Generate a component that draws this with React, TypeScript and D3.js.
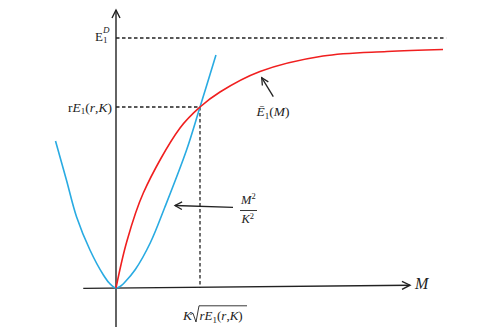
import React from "react";
import * as d3 from "d3";

// E1 bar(M) (M in units of K*sqrt(rE1), E in units of E1^D)
const redM = [0, 0.127, 0.325, 0.762, 1.0, 1.238, 1.714, 2.464, 3.226, 3.893];
const redE = [0, 0.184, 0.38, 0.64, 0.724, 0.784, 0.866, 0.928, 0.946, 0.954];
// M^2/K^2 curve
const blueM = [-0.72, -0.59, -0.47, -0.31, -0.15, -0.075, 0, 0.06, 0.11, 0.23, 0.41, 0.58, 0.84, 1.0, 1.19];
const blueE = [0.588, 0.432, 0.285, 0.152, 0.052, 0.018, 0, 0.009, 0.025, 0.074, 0.182, 0.322, 0.552, 0.724, 0.932];
// reference levels
const E1D = 1;
const rE1 = 0.724;
const Mstar = 1;

const W = 497;
const H = 334;
const FONT = "'Liberation Serif', 'DejaVu Serif', serif";

const App = () => {
    const x = d3.scaleLinear().domain([0, 1]).range([116, 200]);
    const y = d3.scaleLinear().domain([0, 1]).range([288, 38]);

    const line = d3.line<[number, number]>()
        .x(d => x(d[0]))
        .y(d => y(d[1]))
        .curve(d3.curveCatmullRom.alpha(0.5));

    const red = line(redM.map((m, i) => [m, redE[i]]));
    const blue = line(blueM.map((m, i) => [m, blueE[i]]));

    // axis extents
    const x0 = x(-0.39), x1 = x(3.5);
    const yTop = y(1.112), yBot = y(-0.156);
    const axisY0 = y(0) + 0.4, axisY1 = y(0) - 2.8;

    const arrowHead = (tx: number, ty: number, fx: number, fy: number, len = 8, spread = 4) => {
        const a = Math.atan2(ty - fy, tx - fx);
        const bx = tx - len * Math.cos(a), by = ty - len * Math.sin(a);
        const px = -Math.sin(a) * spread, py = Math.cos(a) * spread;
        return `M${bx + px},${by + py}L${tx},${ty}L${bx - px},${by - py}`;
    };

    const ink = "#222";
    const dash = "3.5,2.5";

    return (
        <svg width={W} height={H} style={{ position: "absolute", left: 0, top: 0, background: "#fff" }}
            fontFamily={FONT}>
            {/* dashed guides */}
            <line x1={x(0)} x2={x(3.93)} y1={y(E1D)} y2={y(E1D)} stroke={ink} strokeWidth={1.3} strokeDasharray={dash} />
            <line x1={x(0)} x2={x(Mstar)} y1={y(rE1)} y2={y(rE1)} stroke={ink} strokeWidth={1.3} strokeDasharray={dash} />
            <line x1={x(Mstar)} x2={x(Mstar)} y1={y(rE1)} y2={y(0)} stroke={ink} strokeWidth={1.3} strokeDasharray={dash} />

            {/* axes */}
            <line x1={x(0)} x2={x(0)} y1={yBot} y2={yTop} stroke={ink} strokeWidth={1.4} />
            <path d={arrowHead(x(0), yTop, x(0), yBot)} fill="none" stroke={ink} strokeWidth={1.4} />
            <line x1={x0} x2={x1} y1={axisY0} y2={axisY1} stroke={ink} strokeWidth={1.4} />
            <path d={arrowHead(x1, axisY1, x0, axisY0)} fill="none" stroke={ink} strokeWidth={1.4} />

            {/* curves */}
            <path d={blue ?? ""} fill="none" stroke="#29abe2" strokeWidth={1.6} />
            <path d={red ?? ""} fill="none" stroke="#f01f1f" strokeWidth={1.6} />

            {/* annotation arrows */}
            <line x1={273.3} y1={96.7} x2={261.7} y2={77.7} stroke={ink} strokeWidth={1.3} />
            <path d={arrowHead(261.7, 77.7, 273.3, 96.7, 7, 3.5)} fill="none" stroke={ink} strokeWidth={1.3} />
            <line x1={233} y1={207.3} x2={175} y2={205.5} stroke={ink} strokeWidth={1.3} />
            <path d={arrowHead(175, 205.5, 233, 207.3, 7, 3.8)} fill="none" stroke={ink} strokeWidth={1.3} />

            {/* labels */}
            <text x={95} y={40.5} fontSize={13} fill={ink}>
                E<tspan fontSize={9} dy={2.5}>1</tspan><tspan fontSize={9} fontStyle="italic" dx={-4.5} dy={-10.5}>D</tspan>
            </text>
            <text x={112} y={111.5} fontSize={13.5} fill={ink} textAnchor="end">
                r<tspan fontStyle="italic">E</tspan><tspan fontSize={9} dy={2.5}>1</tspan><tspan dy={-2.5}>(</tspan><tspan fontStyle="italic">r</tspan>,<tspan fontStyle="italic">K</tspan>)
            </text>
            <text x={256.5} y={116} fontSize={13.5} fill={ink}>
                <tspan fontStyle="italic">Ē</tspan><tspan fontSize={9} dy={2.5}>1</tspan><tspan dy={-2.5}>(</tspan><tspan fontStyle="italic">M</tspan>)
            </text>
            <text x={241} y={203.5} fontSize={12.5} fill={ink} fontStyle="italic">
                M<tspan fontSize={8.5} fontStyle="normal" dy={-4.5}>2</tspan>
            </text>
            <line x1={240} x2={257} y1={210.5} y2={210.5} stroke={ink} strokeWidth={0.9} />
            <text x={241.5} y={223} fontSize={12.5} fill={ink} fontStyle="italic">
                K<tspan fontSize={8.5} fontStyle="normal" dy={-4.5}>2</tspan>
            </text>
            <text x={415} y={288.5} fontSize={16} fill={ink} fontStyle="italic">M</text>

            {/* K sqrt(rE1(r,K)) */}
            <text x={183} y={320} fontSize={13.5} fill={ink} fontStyle="italic">K</text>
            <path d="M190.5,314.5L193,313.3L196,322L199,305.8L247,305.8" fill="none" stroke={ink} strokeWidth={0.9} />
            <text x={199.5} y={320} fontSize={13} fill={ink}>
                <tspan fontStyle="italic">rE</tspan><tspan fontSize={9} dy={2.5}>1</tspan><tspan dy={-2.5}>(</tspan><tspan fontStyle="italic">r</tspan>,<tspan fontStyle="italic">K</tspan>)
            </text>
        </svg>
    );
};

export default App;
